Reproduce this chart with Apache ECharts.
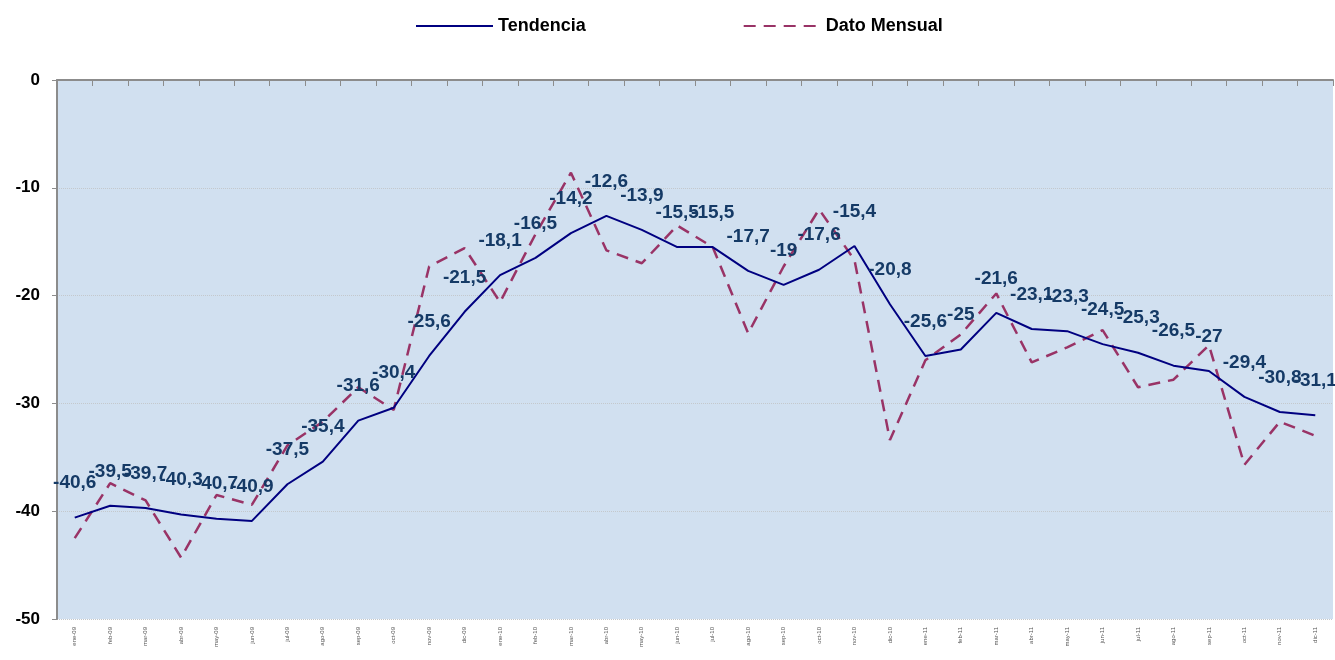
<!DOCTYPE html>
<html>
<head>
    <meta charset="utf-8">
    <title>Tendencia y Dato Mensual</title>
    <script src="https://cdn.jsdelivr.net/npm/echarts@6/dist/echarts.min.js"></script>
    <style>
        html, body { margin: 0; padding: 0; background: #fff; }
    </style>
</head>
<body>
    <div id="main" style="width:1335px;height:660px;"></div>
    <script type="text/javascript">
		// meses (etiquetas del eje x, ilegibles en la imagen)
		var meses = [
			'ene-09','feb-09','mar-09','abr-09','may-09','jun-09','jul-09','ago-09','sep-09','oct-09','nov-09','dic-09',
			'ene-10','feb-10','mar-10','abr-10','may-10','jun-10','jul-10','ago-10','sep-10','oct-10','nov-10','dic-10',
			'ene-11','feb-11','mar-11','abr-11','may-11','jun-11','jul-11','ago-11','sep-11','oct-11','nov-11','dic-11'
		];
		var tendencia = [
			-40.6, -39.5, -39.7, -40.3, -40.7, -40.9, -37.5, -35.4, -31.6, -30.4, -25.6, -21.5,
			-18.1, -16.5, -14.2, -12.6, -13.9, -15.5, -15.5, -17.7, -19, -17.6, -15.4, -20.8,
			-25.6, -25, -21.6, -23.1, -23.3, -24.5, -25.3, -26.5, -27, -29.4, -30.8, -31.1
		];
		var datoMensual = [
			-42.5, -37.4, -39.0, -44.3, -38.5, -39.4, -33.9, -31.7, -28.5, -30.6, -17.3, -15.6,
			-20.6, -14.3, -8.6, -15.8, -17.0, -13.5, -15.5, -23.5, -17.3, -12.0, -16.7, -33.4,
			-26.0, -23.6, -19.8, -26.2, -24.8, -23.2, -28.5, -27.8, -24.6, -35.7, -31.7, -33.0
		];
		var yTicks = [0, -10, -20, -30, -40, -50];

        var myChart = echarts.init(document.getElementById('main'));

		var option = {
			backgroundColor: '#ffffff',
			legend: {
				left: 410,
				top: 12,
				itemWidth: 77,
				itemHeight: 14,
				itemGap: 157,
				itemStyle: { opacity: 0 },
				textStyle: { color: '#000', fontWeight: 'bold', fontSize: 18, fontFamily: 'Liberation Sans' },
				data: ['Tendencia', 'Dato Mensual']
			},
			grid: {
				left: 57,
				right: 2,
				top: 80,
				bottom: 41,
				show: true,
				backgroundColor: '#d1e0f0',
				borderWidth: 0
			},
			xAxis: [
				{
					type: 'category',
					data: meses,
					position: 'bottom',
					axisLine: { show: false },
					axisTick: { show: false },
					axisLabel: {
						interval: 0,
						rotate: 90,
						fontSize: 6,
						color: '#555',
						margin: 8,
						fontFamily: 'Liberation Sans'
					}
				},
				{
					type: 'category',
					data: meses,
					position: 'top',
					axisLine: { show: true, lineStyle: { color: '#8c8c8c', width: 2 } },
					axisTick: { show: true, inside: true, length: 6, interval: 0, lineStyle: { color: '#8c8c8c', width: 1 } },
					axisLabel: { show: false }
				}
			],
			yAxis: {
				type: 'value',
				min: -50,
				max: 0,
				interval: 10,
				axisLine: { show: true, lineStyle: { color: '#8c8c8c', width: 2 } },
				axisTick: { show: true, length: 5, lineStyle: { color: '#8c8c8c' } },
				axisLabel: {
					margin: 17,
					color: '#000',
					fontWeight: 'bold',
					fontSize: 17,
					fontFamily: 'Liberation Sans',
					formatter: function (v) { return yTicks.indexOf(v) >= 0 ? String(v) : ''; }
				},
				splitLine: { show: true, lineStyle: { color: '#c4c8cc', type: 'dotted', width: 1 } }
			},
			series: [
				{
					name: 'Tendencia',
					type: 'line',
					data: tendencia,
					symbol: 'none',
					z: 3,
					lineStyle: { color: '#000080', width: 2 },
					itemStyle: { color: '#000080' }
				},
				{
					name: 'Dato Mensual',
					type: 'line',
					data: datoMensual,
					symbol: 'none',
					z: 2,
					lineStyle: { color: '#993366', width: 2.5, type: [12, 8] },
					itemStyle: { color: '#993366' }
				},
				{
					// etiquetas de la tendencia
					name: 'etiquetas',
					type: 'scatter',
					data: tendencia,
					symbolSize: 0,
					z: 4,
					silent: true,
					itemStyle: { opacity: 1, color: 'rgba(0,0,0,0)' },
					label: {
						show: true,
						position: 'top',
						distance: 25,
						color: '#153a66',
						fontWeight: 'bold',
						fontSize: 19,
						fontFamily: 'Liberation Sans',
						formatter: function (p) { return String(p.value).replace('.', ','); }
					},
					labelLayout: { hideOverlap: false }
				}
			]
		};

        myChart.setOption(option);
    </script>
</body>
</html>
